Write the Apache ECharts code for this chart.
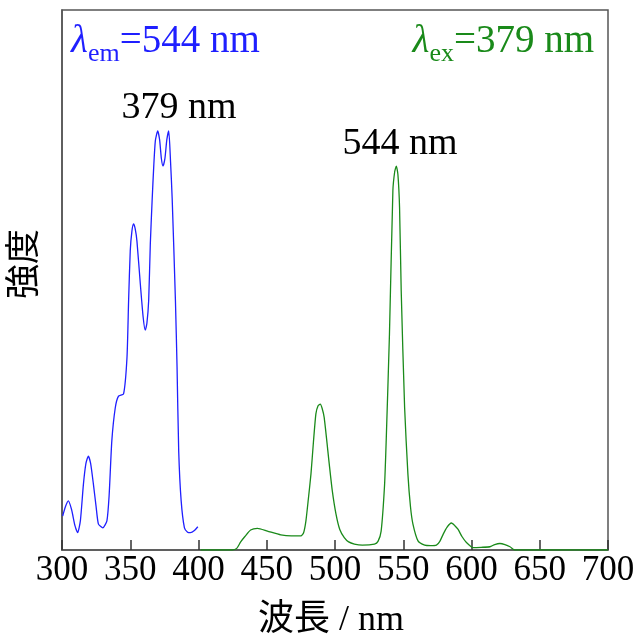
<!DOCTYPE html>
<html>
<head>
<meta charset="utf-8">
<style>
  html, body { margin: 0; padding: 0; background: #fff; }
  #chart { width: 636px; height: 639px; }
</style>
<script src="https://cdn.jsdelivr.net/npm/echarts@6/dist/echarts.min.js"></script>
</head>
<body>
<div id="chart"></div>
<script>
// 励起スペクトル (λem = 544 nm)
var exWave = [300.5, 302.5, 304.6, 307, 309.5, 311.5, 313.5, 315.7, 317.5, 319.3, 321, 323, 325, 326.7, 329.9,
  332.9, 334.5, 336.5, 339, 341.4, 345.1, 347.6, 348.8, 350, 351.2, 352.4, 353.6, 354.9, 357.4, 359.5, 361,
  362.2, 363.5, 364.7, 366, 367.2, 368.4, 370.1, 371.5, 372.8, 374, 375.4, 376.8, 378.2, 379.5, 380.7, 383.1,
  384.3, 385.5, 387.3, 389.7, 392, 394.1, 397, 399.5]
var exValue = [6.3, 8.0, 9.1, 7.5, 4.5, 3.2, 5.5, 12.2, 16.0, 17.4, 16.0, 12.2, 8.0, 4.8, 4.1,
  5.4, 10, 20.2, 26.3, 28.5, 28.9, 35.6, 46.2, 55.4, 59, 60.4, 59.5, 57.2, 49.2, 43, 40.7,
  42, 46.2, 56.7, 64.6, 71, 75.8, 77.6, 76, 72.5, 71.1, 72.5, 76, 77.6, 72, 65.2, 46.2,
  33.7, 18.3, 9.1, 4.1, 3.3, 3.2, 3.6, 4.3]

// 発光スペクトル (λex = 379 nm)
var emWave = [401.5, 424.8, 428, 430.9, 434, 438.2, 443.2, 450.5, 460.3, 468, 475, 477, 478.7, 480.5, 482.4,
  484.2, 486, 487.6, 489.2, 490.6, 492.1, 495.8, 498, 500.7, 503.5, 506.8, 510, 514.2, 520, 528.9, 531.5,
  533.8, 536.3, 537.5, 539.9, 542.4, 543.7, 544.9, 546.1, 547.3, 548.5, 551, 553.4, 555.3, 557.1, 560.8,
  565.7, 570, 574.3, 576.8, 579.2, 582, 585.3, 587.8, 590.2, 593, 596.3, 601.2, 607, 613.5, 617, 620.8,
  624.5, 628.2, 631.8, 700]
var emValue = [0, 0, 0.3, 1.5, 2.5, 3.7, 4.0, 3.5, 2.8, 2.6, 2.6, 3.2, 5.4, 9.5, 14.1,
  20, 25.2, 26.7, 27.0, 26.2, 24.5, 15.9, 11, 6.7, 3.8, 2.3, 1.5, 1.1, 0.9, 1.1, 1.6,
  3.5, 12, 20.2, 40, 66.5, 70, 71.1, 69.5, 63.4, 48, 26.4, 14.1, 8, 4.8, 1.7,
  0.9, 0.8, 0.9, 1.6, 2.9, 4.2, 5.0, 4.5, 3.8, 2.5, 1.4, 0.45, 0.5, 0.6, 1.0, 1.2,
  1.0, 0.6, 0, 0]

var xTicks = [300, 350, 400, 450, 500, 550, 600, 650, 700]

function pairs(xs, ys) {
  return xs.map(function (x, i) { return [x, ys[i]] })
}

var serif = '"Liberation Serif", "Noto Sans CJK JP", serif'
var blue = '#1f1fff'
var green = '#1a8a1a'

function lambdaRich(color) {
  return {
    l: { fontFamily: serif, fontStyle: 'italic', fontSize: 39, color: color, verticalAlign: 'bottom', padding: [0, 0, 6, 0] },
    s: { fontFamily: serif, fontSize: 26, color: color, verticalAlign: 'bottom' },
    n: { fontFamily: serif, fontSize: 39, color: color, verticalAlign: 'bottom', padding: [0, 0, 6, 0] }
  }
}

var myChart = echarts.init(document.getElementById('chart'), null, { renderer: 'canvas' })

var option = {
  animation: false,
  backgroundColor: '#fff',
  grid: {
    left: 62,
    right: 28,
    top: 10,
    bottom: 89,
    outerBoundsMode: 'none',
    show: true,
    borderColor: '#555',
    borderWidth: 1.5
  },
  xAxis: {
    type: 'value',
    min: xTicks[0],
    max: xTicks[xTicks.length - 1],
    interval: 50,
    name: '波長 / nm',
    nameLocation: 'middle',
    nameGap: 53,
    nameTextStyle: { fontFamily: serif, fontSize: 36, color: '#000', padding: [0, 8, 0, 0] },
    axisLine: { lineStyle: { color: '#555', width: 1.5 } },
    axisTick: { inside: true, length: 10, lineStyle: { color: '#333', width: 1.5 } },
    axisLabel: { fontFamily: serif, fontSize: 35, color: '#000', margin: 3 },
    splitLine: { show: false }
  },
  yAxis: {
    type: 'value',
    min: 0,
    max: 100,
    axisLine: { show: true, lineStyle: { color: '#555', width: 1.5 } },
    axisTick: { show: false },
    axisLabel: { show: false },
    splitLine: { show: false }
  },
  series: [
    {
      name: 'ex',
      type: 'line',
      data: pairs(exWave, exValue),
      showSymbol: false,
      smooth: 0.2,
      lineStyle: { color: blue, width: 1.3 }
    },
    {
      name: 'em',
      type: 'line',
      data: pairs(emWave, emValue),
      showSymbol: false,
      smooth: 0.2,
      lineStyle: { color: green, width: 1.3 }
    }
  ],
  graphic: [
    {
      type: 'text',
      x: 26,
      y: 264,
      rotation: Math.PI / 2,
      style: {
        text: '強度',
        font: '35px ' + serif,
        fill: '#000',
        textAlign: 'center',
        textVerticalAlign: 'middle'
      }
    },
    {
      type: 'text',
      x: 179,
      y: 108,
      style: { text: '379 nm', font: '38px ' + serif, fill: '#000', textAlign: 'center', textVerticalAlign: 'middle' }
    },
    {
      type: 'text',
      x: 400,
      y: 144,
      style: { text: '544 nm', font: '38px ' + serif, fill: '#000', textAlign: 'center', textVerticalAlign: 'middle' }
    },
    {
      type: 'text',
      left: 71,
      top: 22,
      style: { text: '{l|λ}{s|em}{n|=544 nm}', fill: blue, rich: lambdaRich(blue) }
    },
    {
      type: 'text',
      right: 42,
      top: 22,
      style: { text: '{l|λ}{s|ex}{n|=379 nm}', fill: green, rich: lambdaRich(green) }
    }
  ]
}

myChart.setOption(option)
window.addEventListener('resize', function () {
  myChart.resize()
})
</script>
</body>
</html>
